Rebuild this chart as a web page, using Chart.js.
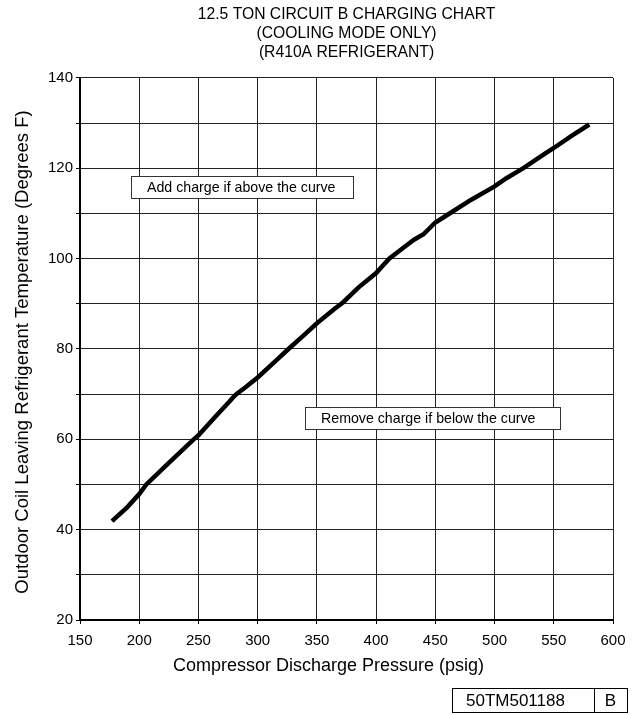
<!DOCTYPE html>
<html>
<head>
<meta charset="utf-8">
<script src="https://cdn.jsdelivr.net/npm/chart.js@4.4.0/dist/chart.umd.min.js"></script>
<style>
  html, body { margin: 0; padding: 0; background: #fff; }
  #c { display: block; }
</style>
</head>
<body>
<canvas id="c" width="638" height="715"></canvas>
<script>
// ---- Data ----
const pressure = [177, 190, 200, 206, 225, 246, 250, 265, 276, 279, 282, 290, 300, 315, 326, 340, 350, 365, 372, 385, 400, 411, 420, 428, 432, 440, 450, 462, 480, 500, 510, 524, 540, 550, 565, 580];
const temperature = [41.9, 45.0, 47.9, 50.0, 54.8, 60.0, 60.9, 65.2, 68.3, 69.2, 70.0, 71.6, 73.7, 77.3, 80.0, 83.3, 85.7, 88.9, 90.3, 93.6, 96.8, 100.0, 101.8, 103.4, 104.2, 105.4, 108.0, 110.0, 113.0, 116.0, 117.8, 120.0, 122.8, 124.5, 127.2, 129.7];
const xTickValues = [150, 200, 250, 300, 350, 400, 450, 500, 550, 600];
const yTickLabels = [20, 40, 60, 80, 100, 120, 140];
const titleLines = ['12.5 TON CIRCUIT B CHARGING CHART', '(COOLING MODE ONLY)', '(R410A REFRIGERANT)'];
const xAxisTitle = 'Compressor Discharge Pressure (psig)';
const yAxisTitle = 'Outdoor Coil Leaving Refrigerant Temperature (Degrees F)';
const noteAbove = 'Add charge if above the curve';
const noteBelow = 'Remove charge if below the curve';
const docNumber = '50TM501188';
const docRevision = 'B';

const FONT = '"Liberation Sans", Arial, Helvetica, sans-serif';

const points = pressure.map((p, i) => ({ x: p, y: temperature[i] }));

const bgPlugin = {
  id: 'bg',
  beforeDraw(chart) {
    const ctx = chart.ctx;
    ctx.save();
    ctx.fillStyle = '#fff';
    ctx.fillRect(0, 0, chart.width, chart.height);
    ctx.restore();
  }
};

function textBox(ctx, x1, y1, x2, y2, text, tx, size) {
  ctx.save();
  ctx.fillStyle = '#fff';
  ctx.fillRect(x1, y1, x2 - x1, y2 - y1);
  ctx.strokeStyle = '#333';
  ctx.lineWidth = 1;
  ctx.strokeRect(x1 + 0.5, y1 + 0.5, x2 - x1, y2 - y1);
  ctx.fillStyle = '#000';
  ctx.font = size + 'px ' + FONT;
  ctx.textAlign = 'left';
  ctx.textBaseline = 'middle';
  ctx.fillText(text, tx, (y1 + y2) / 2 + 1);
  ctx.restore();
}

const overlayPlugin = {
  id: 'overlay',
  afterDraw(chart) {
    const ctx = chart.ctx;
    textBox(ctx, 131, 176, 353, 198, noteAbove, 147, 14.2);
    textBox(ctx, 305, 407, 560, 429, noteBelow, 321, 14.2);

    // axis titles
    ctx.save();
    ctx.fillStyle = '#000';
    ctx.textAlign = 'center';
    ctx.textBaseline = 'middle';
    ctx.font = '18px ' + FONT;
    ctx.fillText(xAxisTitle, 328.5, 666);
    ctx.font = '18.5px ' + FONT;
    ctx.translate(23, 352);
    ctx.rotate(-Math.PI / 2);
    ctx.fillText(yAxisTitle, 0, 0);
    ctx.restore();

    // document number box
    ctx.save();
    ctx.strokeStyle = '#000';
    ctx.lineWidth = 1;
    ctx.strokeRect(452.5, 688.5, 175, 24);
    ctx.beginPath();
    ctx.moveTo(594.5, 688.5);
    ctx.lineTo(594.5, 712.5);
    ctx.stroke();
    ctx.fillStyle = '#000';
    ctx.font = '17px ' + FONT;
    ctx.textBaseline = 'middle';
    ctx.textAlign = 'left';
    ctx.fillText(docNumber, 466, 701);
    ctx.textAlign = 'center';
    ctx.fillText(docRevision, 610.5, 701);
    ctx.restore();
  }
};

new Chart(document.getElementById('c'), {
  type: 'line',
  data: {
    datasets: [{
      data: points,
      borderColor: '#000',
      borderWidth: 4.5,
      pointRadius: 0,
      tension: 0,
      fill: false
    }]
  },
  options: {
    responsive: false,
    animation: false,
    devicePixelRatio: 1,
    layout: { padding: { left: 0, right: 25, top: 0, bottom: 0 } },
    plugins: {
      legend: { display: false },
      tooltip: { enabled: false },
      title: {
        display: true,
        fullSize: false,
        text: titleLines,
        color: '#000',
        font: { family: FONT, size: 15.7, weight: 'normal', lineHeight: 1.21 },
        padding: { top: 5, bottom: 16 }
      }
    },
    scales: {
      x: {
        type: 'linear',
        min: 150,
        max: 600,
        afterBuildTicks(scale) { scale.ticks = xTickValues.map(v => ({ value: v })); },
        afterFit(scale) { scale.height = 95; },
        ticks: {
          color: '#000',
          font: { family: FONT, size: 15 },
          padding: 8,
          autoSkip: false,
          maxRotation: 0
        },
        grid: { color: '#222', lineWidth: 1, tickLength: 4, tickColor: '#000' },
        border: { display: true, color: '#000', width: 2 }
      },
      y: {
        type: 'linear',
        min: 20,
        max: 140,
        afterFit(scale) { scale.width = 80; },
        ticks: {
          stepSize: 10,
          color: '#000',
          font: { family: FONT, size: 15 },
          padding: 3,
          autoSkip: false,
          callback: v => (yTickLabels.includes(v) ? String(v) : '')
        },
        grid: { color: '#222', lineWidth: 1, tickLength: 4, tickColor: '#000' },
        border: { display: true, color: '#000', width: 2 }
      }
    }
  },
  plugins: [bgPlugin, overlayPlugin]
});
</script>
</body>
</html>
